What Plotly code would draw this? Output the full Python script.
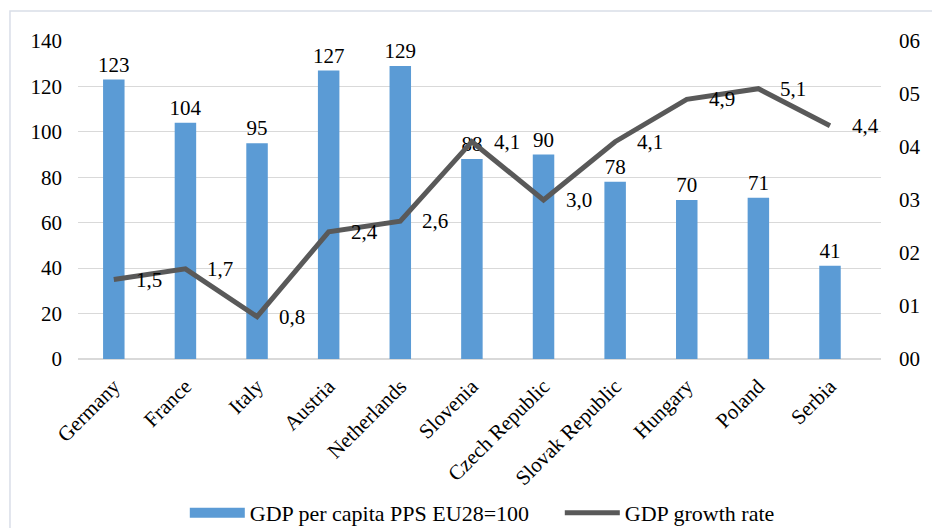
import plotly.graph_objects as go

countries = ["Germany", "France", "Italy", "Austria", "Netherlands", "Slovenia",
             "Czech Republic", "Slovak Republic", "Hungary", "Poland", "Serbia"]
gdp_pps = [123, 104, 95, 127, 129, 88, 90, 78, 70, 71, 41]
growth = [1.5, 1.7, 0.8, 2.4, 2.6, 4.1, 3.0, 4.1, 4.9, 5.1, 4.4]
left_ticks = [0, 20, 40, 60, 80, 100, 120, 140]
right_ticks = [0, 1, 2, 3, 4, 5, 6]

FONT = "Liberation Serif, Times New Roman, serif"
FS = 21
BAR_COLOR = "#5B9BD5"
LINE_COLOR = "#595959"

fig = go.Figure()
fig.add_trace(go.Bar(
    x=countries, y=gdp_pps, name="GDP per capita PPS EU28=100",
    marker=dict(color=BAR_COLOR, line=dict(width=0)), showlegend=False,
    legendgroup="bar",
    text=gdp_pps, textposition="outside", cliponaxis=False, constraintext="none",
    textfont=dict(family=FONT, size=FS, color="#000000"),
))
# legend-only entry drawn as a wide rectangle, like the reference legend key
fig.add_trace(go.Scatter(
    x=[None], y=[None], name="GDP per capita PPS EU28=100", mode="lines",
    line=dict(color=BAR_COLOR, width=10), legendgroup="bar", showlegend=True,
))
fig.add_trace(go.Scatter(
    x=countries, y=growth, name="GDP growth rate", yaxis="y2",
    mode="lines", line=dict(color=LINE_COLOR, width=5),
))

annotations = [
    dict(x=c, y=g, xref="x", yref="y2", text=f"{g:.1f}".replace(".", ","),
         showarrow=False, xanchor="left", yanchor="middle", xshift=20,
         font=dict(family=FONT, size=FS, color="#000000"))
    for c, g in zip(countries, growth)
]
# right-axis tick labels ("00".."06"), set a little away from the plot edge
annotations += [
    dict(x=1, y=v, xref="paper", yref="y2", text=f"{v:02d}", showarrow=False,
         xanchor="left", yanchor="middle", xshift=16,
         font=dict(family=FONT, size=FS, color="#000000"))
    for v in right_ticks
]

fig.update_layout(
    width=932, height=520,
    margin=dict(l=70, r=59, t=33, b=169, autoexpand=False),
    paper_bgcolor="white", plot_bgcolor="white",
    separators=",.",
    font=dict(family=FONT, size=FS, color="#000000"),
    bargap=0.7,
    showlegend=True,
    legend=dict(orientation="h", x=0.133, xanchor="left", y=-0.484, yanchor="middle",
                font=dict(family=FONT, size=22), traceorder="normal",
                bgcolor="rgba(0,0,0,0)", itemwidth=55,
                entrywidth=305, entrywidthmode="pixels"),
    xaxis=dict(tickangle=-45, showgrid=False, showline=False, ticks="", automargin=False,
               ticklabelstandoff=10, tickfont=dict(family=FONT, size=FS)),
    yaxis=dict(range=[0, 140], tickvals=left_ticks, showgrid=True, automargin=False,
               gridcolor="#D9D9D9", gridwidth=1, zeroline=True, zerolinecolor="#D9D9D9",
               zerolinewidth=1.5, ticks="", ticklen=0, ticklabelstandoff=15,
               tickfont=dict(family=FONT, size=FS)),
    yaxis2=dict(range=[0, 6], tickvals=right_ticks, overlaying="y",
                side="right", showgrid=False, zeroline=False, automargin=False,
                ticks="", showticklabels=False),
    annotations=annotations,
    shapes=[dict(type="rect", xref="paper", yref="paper",
                 x0=-0.0847, x1=1.067, y0=-0.6, y1=1.094,
                 line=dict(color="#D9DEE8", width=1.5), fillcolor="rgba(0,0,0,0)",
                 layer="below")],
)

fig.write_html("out.html")
